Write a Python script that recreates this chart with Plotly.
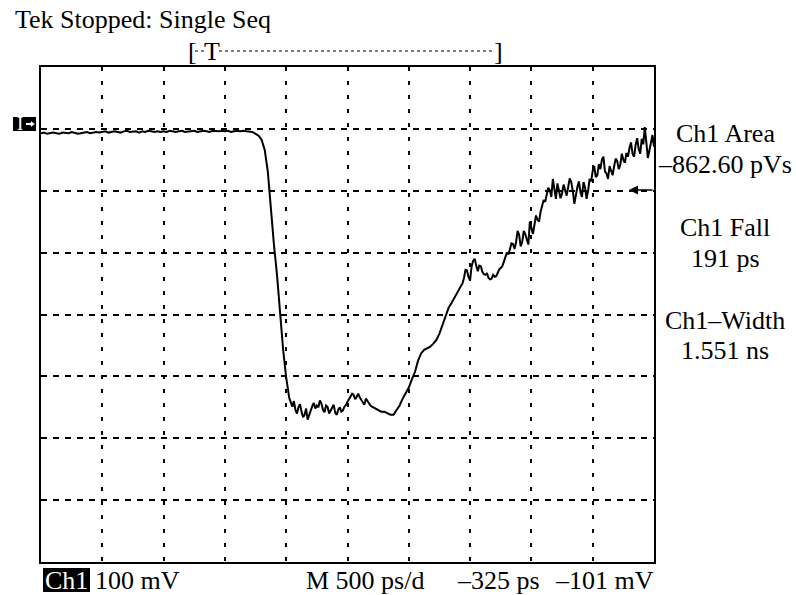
import plotly.graph_objects as go

# ---- data: sampled trace (time in ps, voltage in mV) ----
time_ps = [
    0, 25, 50, 75, 100, 125, 150, 175, 200, 225, 250, 275, 300, 325, 350, 375, 400, 425, 450, 475,
    500, 525, 550, 575, 600, 625, 650, 675, 700, 725, 750, 775, 800, 825, 850, 875, 900, 925, 950, 975,
    1000, 1025, 1050, 1075, 1100, 1125, 1150, 1175, 1200, 1225, 1250, 1275, 1300, 1325, 1350, 1375, 1400, 1425, 1450, 1475,
    1500, 1525, 1550, 1575, 1600, 1625, 1650, 1675, 1700, 1725, 1750, 1775, 1800, 1825, 1850, 1875, 1900, 1925, 1950, 1975,
    2000, 2025, 2050, 2075, 2100, 2125, 2150, 2175, 2200, 2225, 2250, 2275, 2300, 2325, 2350, 2375, 2400, 2425, 2450, 2475,
    2500, 2525, 2550, 2575, 2600, 2625, 2650, 2675, 2700, 2725, 2750, 2775, 2800, 2825, 2850, 2875, 2900, 2925, 2950, 2975,
    3000, 3025, 3050, 3075, 3100, 3125, 3150, 3175, 3200, 3225, 3250, 3275, 3300, 3325, 3350, 3375, 3400, 3425, 3450, 3475,
    3500, 3525, 3550, 3575, 3600, 3625, 3650, 3675, 3700, 3725, 3750, 3775, 3800, 3825, 3850, 3875, 3900, 3925, 3950, 3975,
    4000, 4025, 4050, 4075, 4100, 4125, 4150, 4175, 4200, 4225, 4250, 4275, 4300, 4325, 4350, 4375, 4400, 4425, 4450, 4475,
    4500, 4525, 4550, 4575, 4600, 4625, 4650, 4675, 4700, 4725, 4750, 4775, 4800, 4825, 4850, 4875, 4900, 4925, 4950, 4975,
    5000,
]
voltage_mV = [
    -7, -6, -8, -7, -6, -7, -8, -6, -7, -7, -5, -6, -8, -7, -6, -5, -7, -6, -5, -6,
    -5, -4, -6, -5, -4, -5, -6, -4, -3, -5, -5, -4, -6, -4, -5, -3, -4, -5, -4, -5,
    -4, -5, -3, -4, -5, -4, -3, -5, -4, -4, -3, -5, -4, -3, -4, -5, -3, -4, -4, -3,
    -4, -3, -5, -4, -3, -4, -3, -4, -5, -5,
    -8, -11, -18, -34, -69, -134, -187, -236, -297, -357, -402, -435, -449,
    -454, -450, -457, -462, -470, -454, -443, -447, -439, -454, -447, -460, -450, -459, -454, -457, -449,
    -441, -433, -430, -433, -434, -443, -436, -444, -449, -452, -454, -457, -457, -459, -462, -462, -455, -447, -436, -428,
    -418, -405, -393, -375, -363, -357, -354, -352, -347, -341, -331, -317, -302, -289, -281, -273, -263, -254, -241, -229,
    -244, -213, -221, -221, -231, -236, -241, -242, -239, -233, -225, -215, -200, -192, -186, -183, -171, -183, -170, -187,
    -160, -155, -147, -134, -115, -107, -99, -81, -113, -100, -105, -99, -94, -86, -121, -94, -102, -86, -113, -81,
    -68, -78, -57, -50, -69, -81, -66, -60, -52, -58, -50, -39, -31, -40, -26, -32, -16, 3, -47, -21, -29,
]

# extra in-between samples in the noisy stretches
extra_time_ps = [
    2062.5, 2087.5, 2112.5, 2137.5, 2162.5, 2187.5, 2212.5, 2237.5, 2262.5, 2287.5, 2312.5, 2337.5, 2362.5,
    2387.5, 2412.5, 2437.5, 2462.5, 2487.5, 2512.5, 2537.5, 2562.5, 2587.5, 2612.5, 2637.5, 2662.5, 2687.5,
    3437.5, 3462.5, 3487.5, 3512.5, 3537.5, 3562.5, 3587.5, 3612.5, 3637.5, 3662.5, 3687.5, 3712.5, 3737.5,
    3762.5, 3787.5, 3812.5, 3837.5, 3862.5,
    3887.5, 3912.5, 3937.5, 3962.5, 3987.5, 4012.5, 4037.5, 4062.5, 4087.5, 4112.5, 4137.5, 4162.5, 4187.5,
    4212.5, 4237.5, 4262.5, 4287.5, 4312.5, 4337.5, 4362.5, 4387.5, 4412.5, 4437.5, 4462.5, 4487.5, 4512.5,
    4537.5, 4562.5, 4587.5, 4612.5, 4637.5, 4662.5, 4687.5, 4712.5, 4737.5, 4762.5, 4787.5, 4812.5, 4837.5,
    4862.5, 4887.5, 4912.5, 4937.5, 4962.5, 4987.5,
]
extra_voltage_mV = [
    -440, -460, -445, -466, -452, -462, -448, -452, -450, -444, -458, -449, -455,
    -446, -462, -450, -455, -446, -437, -428, -437, -428, -438, -446, -440, -447,
    -250, -228, -240, -222, -210, -230, -222, -235, -233, -243, -236, -238, -227,
    -222, -205, -203, -185, -194,
    -165, -190, -165, -178, -150, -170, -140, -150, -125, -118, -95, -110, -95,
    -88, -112, -90, -108, -80, -100, -105, -85, -110, -95, -100, -85, -60,
    -75, -65, -45, -72, -60, -75, -48, -65, -40, -55, -45, -22, -45,
    -15, -40, -25, -20, -35, -10,
]

title_text = "Tek Stopped: Single Seq"
meas_labels = ["Ch1 Area", "–862.60 pVs", "Ch1 Fall", "191 ps", "Ch1–Width", "1.551 ns"]
bottom_labels = ["100 mV", "M 500 ps/d", "–325 ps", "–101 mV"]

# ---- layout geometry (pixels) ----
W, H = 796, 595
L, R, T, B = 41, 654, 67, 562
PW, PH = R - L, B - T
FONT = "Liberation Serif"
FS = 26


def px(x):
    return (x - L) / PW


def py(y):
    return (B - y) / PH


samples = sorted(zip(time_ps + extra_time_ps, voltage_mV + extra_voltage_mV))
t_ns = [s[0] / 1000 for s in samples]
v_mv = [s[1] for s in samples]

fig = go.Figure()
fig.add_trace(go.Scatter(
    x=t_ns, y=v_mv, mode="lines",
    line=dict(color="black", width=2), hoverinfo="skip", showlegend=False,
))

fig.update_xaxes(range=[0, 5], tick0=0, dtick=0.5, showticklabels=False, ticks="",
                 showgrid=True, gridcolor="black", gridwidth=1.5, griddash="4px,10px",
                 zeroline=False, showline=True, linecolor="black", linewidth=1.5, mirror=True)
fig.update_yaxes(range=[-700, 100], tick0=0, dtick=100, showticklabels=False, ticks="",
                 showgrid=True, gridcolor="black", gridwidth=1.5, griddash="6px,6px",
                 zeroline=False, showline=True, linecolor="black", linewidth=1.5, mirror=True)

ann = []


def text(x, y, s, anchor="left", color="black", size=FS):
    ann.append(dict(xref="paper", yref="paper", x=px(x), y=py(y), text=s, showarrow=False,
                    xanchor=anchor, yanchor="middle",
                    font=dict(family=FONT, size=size, color=color)))


text(13, 19, title_text)
text(725, 133, meas_labels[0], "center")
text(725, 164, meas_labels[1], "center")
text(725, 227, meas_labels[2], "center")
text(725, 258, meas_labels[3], "center")
text(725, 320, meas_labels[4], "center")
text(725, 351, meas_labels[5], "center")
text(93, 580, bottom_labels[0])
text(304, 580, bottom_labels[1])
text(455, 580, bottom_labels[2])
text(553, 580, bottom_labels[3])
text(66, 580, "Ch1", "center", color="white")
text(192, 51, "[", "center")
text(212, 51, "T", "center")
text(498, 51, "]", "center")
text(20, 124, "I", "center", color="white", size=19)

# right-edge reference arrow
ann.append(dict(xref="paper", yref="paper", x=px(629), y=py(190), ax=25, ay=0,
                text="", showarrow=True, arrowhead=2, arrowsize=1.2, arrowwidth=1.5,
                arrowcolor="black"))

shapes = [
    # Ch1 black box
    dict(type="rect", xref="paper", yref="paper", x0=px(43), x1=px(90), y0=py(592), y1=py(568),
         fillcolor="black", line=dict(width=0), layer="below"),
    # ground marker box
    dict(type="rect", xref="paper", yref="paper", x0=px(13), x1=px(36), y0=py(131), y1=py(117),
         fillcolor="black", line=dict(width=0), layer="below"),
    dict(type="line", xref="paper", yref="paper", x0=px(26), x1=px(32), y0=py(124), y1=py(124),
         line=dict(color="white", width=2)),
    dict(type="path", xref="paper", yref="paper",
         path=f"M {px(31)},{py(121.5)} L {px(34.5)},{py(124)} L {px(31)},{py(126.5)} Z",
         fillcolor="white", line=dict(color="white", width=0.5)),
    # trigger dotted line
    dict(type="line", xref="paper", yref="paper", x0=px(195), x1=px(205), y0=py(51), y1=py(51),
         line=dict(color="black", width=1.2, dash="dot")),
    dict(type="line", xref="paper", yref="paper", x0=px(219), x1=px(495), y0=py(51), y1=py(51),
         line=dict(color="black", width=1.2, dash="dot")),
]

fig.update_layout(
    width=W, height=H, margin=dict(l=L, r=W - R, t=T, b=H - B),
    paper_bgcolor="white", plot_bgcolor="white",
    annotations=ann, shapes=shapes, showlegend=False,
)

fig.write_html("out.html")
